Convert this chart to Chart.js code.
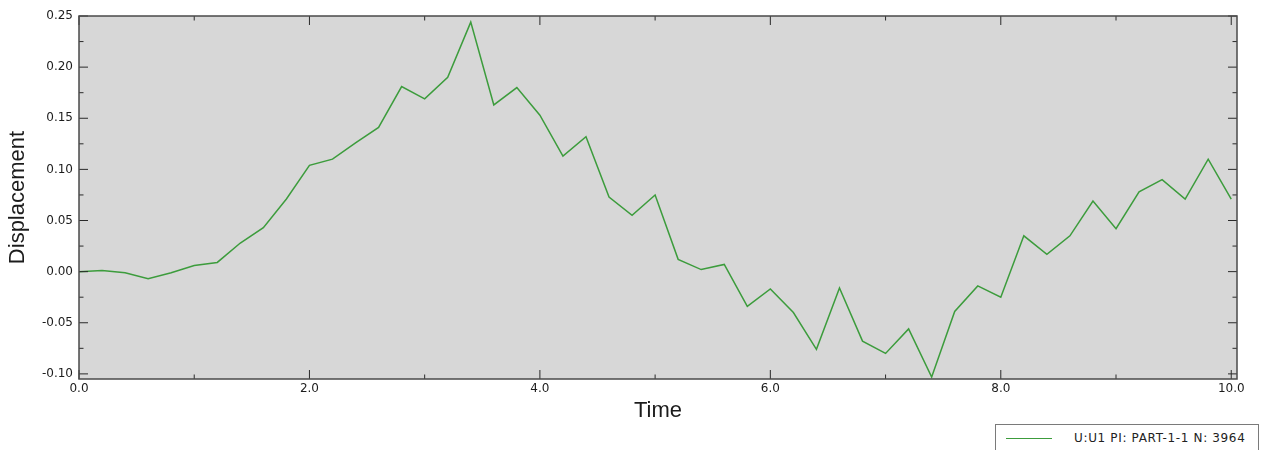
<!DOCTYPE html>
<html>
<head>
<meta charset="utf-8">
<title>Displacement vs Time</title>
<script src="https://cdn.jsdelivr.net/npm/chart.js@4.4.1/dist/chart.umd.min.js"></script>
<style>
  html, body { margin: 0; padding: 0; background: #fff; overflow: hidden; }
  #wrap { position: relative; width: 1267px; height: 450px; }
  #legend {
    position: absolute; left: 995px; top: 424px; width: 262px; height: 40px;
    border: 1.5px solid #7a7a7a; background: #fff;
    font: 12px "DejaVu Sans", sans-serif; letter-spacing: 0.65px; color: #222;
  }
  #legend .swatch { position: absolute; left: 10px; top: 13px; width: 46px; border-top: 1.5px solid #3c9c3c; }
  #legend .text { position: absolute; left: 78px; top: 6px; white-space: nowrap; }
</style>
</head>
<body>
<div id="wrap">
  <canvas id="chart" width="1267" height="450"></canvas>
  <div id="legend"><span class="swatch"></span><span class="text"></span></div>
</div>
<script>
// --- 데이터 ------------------------------------------------------
const seriesLabel = "U:U1 PI: PART-1-1 N: 3964";
const times = [
  0.0, 0.2, 0.4, 0.6, 0.8, 1.0, 1.2, 1.4, 1.6, 1.8,
  2.0, 2.2, 2.4, 2.6, 2.8, 3.0, 3.2, 3.4, 3.6, 3.8,
  4.0, 4.2, 4.4, 4.6, 4.8, 5.0, 5.2, 5.4, 5.6, 5.8,
  6.0, 6.2, 6.4, 6.6, 6.8, 7.0, 7.2, 7.4, 7.6, 7.8,
  8.0, 8.2, 8.4, 8.6, 8.8, 9.0, 9.2, 9.4, 9.6, 9.8, 10.0,
];
const displacement = [
  0.000, 0.001, -0.001, -0.007, -0.001, 0.006, 0.009, 0.028, 0.043, 0.071,
  0.104, 0.110, 0.126, 0.141, 0.181, 0.169, 0.190, 0.244, 0.163, 0.180,
  0.153, 0.113, 0.132, 0.073, 0.055, 0.075, 0.012, 0.002, 0.007, -0.034,
  -0.017, -0.040, -0.076, -0.016, -0.068, -0.080, -0.056, -0.103, -0.039, -0.014,
  -0.025, 0.035, 0.017, 0.035, 0.069, 0.042, 0.078, 0.090, 0.071, 0.110, 0.071,
];
const xTickValues = [0, 2, 4, 6, 8, 10];
const yTickValues = [-0.10, -0.05, 0.00, 0.05, 0.10, 0.15, 0.20, 0.25];

const C = {
  ink:    "#1c1c1c",
  tick:   "#2a2a2a",
  frame:  "#4a4a4a",
  plotBg: "#d7d7d7",
  line:   "#3c9c3c",
};

// 플롯 배경 + 테두리 + 안쪽으로 향하는 눈금 (주/보조)
const framePlugin = {
  id: "frame",
  beforeDraw(chart) {
    const { ctx, chartArea: a } = chart;
    ctx.save();
    ctx.fillStyle = C.plotBg;
    ctx.fillRect(a.left, a.top, a.right - a.left, a.bottom - a.top);
    ctx.restore();
  },
  afterDatasetsDraw(chart) {
    const { ctx, chartArea: a, scales } = chart;
    const big = 9, small = 4.5;
    const withMinor = (vals) => {
      const out = [];
      vals.forEach((v, i) => {
        out.push([v, big]);
        if (i < vals.length - 1) out.push([(v + vals[i + 1]) / 2, small]);
      });
      return out;
    };
    ctx.save();
    ctx.strokeStyle = C.tick;
    ctx.lineWidth = 1;
    ctx.beginPath();
    withMinor(yTickValues).forEach(([v, len]) => {
      const py = scales.y.getPixelForValue(v);
      ctx.moveTo(a.left, py);  ctx.lineTo(a.left + len, py);
      ctx.moveTo(a.right, py); ctx.lineTo(a.right - len, py);
    });
    withMinor(xTickValues).forEach(([v, len]) => {
      const px = scales.x.getPixelForValue(v);
      ctx.moveTo(px, a.bottom); ctx.lineTo(px, a.bottom - len);
      ctx.moveTo(px, a.top);    ctx.lineTo(px, a.top + len);
    });
    ctx.stroke();
    ctx.strokeStyle = C.frame;
    ctx.lineWidth = 1.5;
    ctx.strokeRect(a.left, a.top, a.right - a.left, a.bottom - a.top);
    ctx.restore();
  },
};

const tickFont = { family: "'DejaVu Sans', sans-serif", size: 12 };
const titleFont = { family: "'Liberation Sans', Arial, sans-serif", size: 22 };

new Chart(document.getElementById("chart"), {
  type: "line",
  data: {
    datasets: [{
      label: seriesLabel,
      data: times.map((t, i) => ({ x: t, y: displacement[i] })),
      borderColor: C.line, borderWidth: 1.5, pointRadius: 0, tension: 0, fill: false,
    }],
  },
  options: {
    responsive: false,
    animation: false,
    events: [],
    layout: { padding: { top: 16, right: 30, left: 0, bottom: 0 } },
    plugins: { legend: { display: false }, tooltip: { enabled: false } },
    scales: {
      x: {
        type: "linear", min: 0, max: 10.05,
        afterBuildTicks: (s) => { s.ticks = xTickValues.map((v) => ({ value: v })); },
        afterFit: (s) => { s.height = 71; },
        grid: { display: false, drawTicks: false },
        border: { display: false },
        ticks: { padding: 3, color: C.ink, font: tickFont, maxRotation: 0, autoSkip: false,
                 callback: (v) => Number(v).toFixed(1) },
        title: { display: true, text: "Time", color: C.ink, font: titleFont, padding: { top: 0, bottom: 26 } },
      },
      y: {
        type: "linear", min: -0.105, max: 0.25,
        afterBuildTicks: (s) => { s.ticks = yTickValues.map((v) => ({ value: v })); },
        afterFit: (s) => { s.width = 79; },
        grid: { display: false, drawTicks: false },
        border: { display: false },
        ticks: { padding: 6, color: C.ink, font: tickFont, autoSkip: false,
                 callback: (v) => Number(v).toFixed(2) },
        title: { display: true, text: "Displacement", color: C.ink, font: titleFont, padding: { top: 5, bottom: 0 } },
      },
    },
  },
  plugins: [framePlugin],
});

document.querySelector("#legend .text").textContent = seriesLabel;
</script>
</body>
</html>
